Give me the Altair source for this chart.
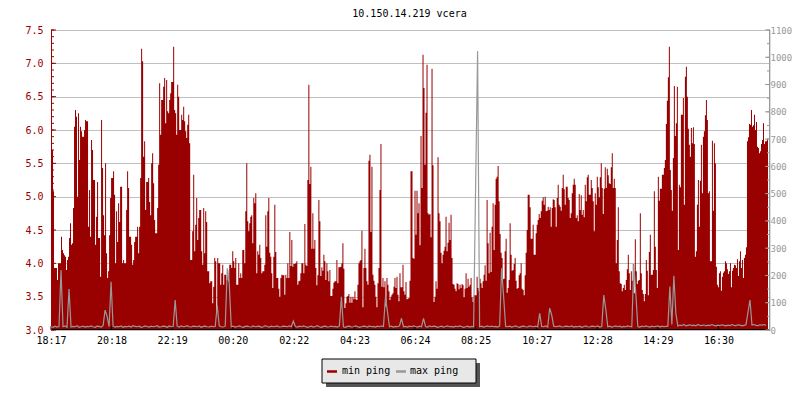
import altair as alt
import pandas as pd

title_text = "10.150.14.219 vcera"
tick_labels = ["18:17", "20:18", "22:19", "00:20", "02:22", "04:23",
               "06:24", "08:25", "10:27", "12:28", "14:29", "16:30"]
tick_minutes = [0, 121, 242, 363, 485, 606, 727, 848, 970, 1091, 1212, 1333]
x_end_minutes = 1436

left_ticks = [3.0, 3.5, 4.0, 4.5, 5.0, 5.5, 6.0, 6.5, 7.0, 7.5]
left_minor_ticks = [round(3.0 + 0.1 * k, 1) for k in range(46)]
right_ticks = [0, 100, 200, 300, 400, 500, 600, 700, 800, 900, 1000, 1100]
right_minor_ticks = [50 * k for k in range(23)]

legend_labels = ["min ping", "max ping"]
series_colors = ["#990000", "#999999"]

# min ping, one value every 2 minutes (left axis)
min_ping_step = 2
min_ping = [
    4.43, 5.7, 5.08, 3.93, 3.93, 3.93, 3.75, 4.0, 4.0, 4.0,
    4.4, 4.2, 4.15, 4.12, 4.1, 3.9, 4.05, 4.1, 4.38, 4.6,
    4.28, 4.3, 4.83, 6.05, 6.3, 6.2, 5.0, 6.25, 5.55, 6.05,
    5.98, 5.9, 5.9, 6.0, 6.15, 6.13, 6.13, 4.55, 5.1, 4.4,
    5.85, 5.7, 5.25, 5.25, 4.28, 4.7, 5.22, 4.38, 4.38, 3.8,
    6.15, 5.43, 4.72, 4.42, 5.5, 4.15, 3.78, 3.88, 4.42, 4.98,
    5.28, 5.28, 5.38, 5.03, 4.0, 4.78, 4.32, 4.9, 4.62, 5.15,
    5.15, 4.0, 4.05, 4.0, 4.0, 4.8, 5.38, 5.13, 4.4, 4.4,
    4.28, 3.98, 4.05, 4.32, 4.4, 4.4, 4.55, 4.15, 4.55, 5.28,
    7.22, 7.03, 5.6, 5.83, 4.8, 5.22, 5.22, 5.28, 4.92, 4.72,
    5.5, 5.65, 5.2, 4.65, 4.45, 4.45, 4.83, 5.48, 6.7, 5.93,
    6.45, 6.45, 6.65, 6.78, 6.1, 6.75, 6.28, 6.25, 6.45, 6.55,
    6.72, 6.72, 7.25, 6.3, 6.25, 5.93, 6.68, 6.5, 6.0, 6.0,
    6.23, 6.15, 6.35, 6.13, 5.98, 5.88, 6.08, 6.23, 5.8, 4.05,
    4.05, 4.48, 5.33, 4.18, 4.58, 4.98, 4.35, 4.68, 4.8, 4.8,
    4.18, 3.98, 4.83, 4.15, 4.78, 4.62, 3.88, 3.88, 3.7, 3.73,
    3.73, 3.4, 3.65, 4.08, 4.03, 3.28, 4.08, 4.0, 4.0, 3.68,
    3.85, 3.98, 3.68, 3.83, 3.83, 3.75, 3.9, 3.73, 3.98, 3.98,
    # 00:20 ->
    3.93, 4.18, 4.03, 3.93, 4.08, 3.68, 3.68, 4.0, 3.78, 3.85,
    3.78, 4.2, 4.2, 4.0, 4.78, 5.5, 4.63, 4.48, 4.6, 4.7,
    4.72, 4.3, 4.98, 4.9, 5.05, 3.85, 4.18, 4.13, 4.28, 4.08,
    3.85, 3.88, 3.88, 3.98, 4.72, 4.25, 4.78, 4.98, 4.16, 4.1,
    3.85, 3.63, 4.1, 4.88, 4.17, 3.78, 3.78, 3.62, 3.5, 3.78,
    3.83, 3.82, 3.82, 3.53, 3.83, 3.78, 4.0, 3.78, 4.47, 3.96,
    4.35, 3.95, 3.99, 3.99, 4.0, 4.03, 3.68, 3.73, 3.74, 3.85,
    4.0, 4.0, 3.85,
    4.59, 3.98, 3.96, 5.25, 6.68, 5.19, 5.45, 4.22, 4.75, 4.22,
    4.35, 3.93, 3.67, 3.82, 4.95, 4.63, 3.81, 3.94, 3.89, 4.13,
    4.03, 3.75, 4.0, 3.88, 3.73, 3.9, 3.51, 3.51, 3.62, 3.71,
    3.73, 3.73, 4.05, 3.7, 3.94, 3.94, 3.95, 4.0, 4.3, 3.92,
    3.33, 3.4, 3.5, 3.51, 3.54, 3.41, 3.5, 3.41, 3.5, 3.46,
    3.58, 3.46, 3.45, 3.68, 4.0, 4.03, 4.05, 4.49, 3.34, 3.93,
    4.22, 3.93, 3.73, 3.68, 5.54, 5.63, 4.47, 5.45, 3.83, 3.74,
    3.68, 3.5, 3.34, 3.7, 3.93, 5.1, 5.79, 3.65, 3.78, 3.64,
    3.73, 3.35, 3.78, 3.68, 3.58, 3.45, 3.5, 3.53, 3.55, 3.65,
    3.78, 3.63, 3.8, 3.53, 3.43, 3.85, 3.64, 3.64, 3.98, 3.58,
    3.53, 3.72, 3.46, 3.47, 3.48,
    # 06:00 ->
    3.74, 5.38, 5.38, 4.08, 4.07, 5.09, 4.43, 5.09, 4.75, 4.9,
    4.27, 5.91, 5.13, 7.13, 6.63, 5.48, 6.26, 6.98, 4.75, 4.73,
    4.74, 4.39, 6.92, 5.47, 3.42, 3.5, 3.73, 3.62, 5.59, 4.75,
    4.63, 4.16, 4.0, 4.13, 4.19, 4.25, 4.7, 4.18, 4.31, 4.61,
    4.35, 4.73, 4.08, 3.69, 3.68, 3.62, 3.58, 3.7, 3.69, 3.61,
    3.68, 3.63, 3.69, 3.67, 3.49, 3.62, 3.85, 3.63, 3.77, 3.65,
    3.68, 3.78, 3.49, 3.42, 3.52, 3.52, 3.52, 3.8, 3.63, 3.58,
    3.77, 3.7, 3.63, 3.73, 3.83, 3.97, 3.74, 4.95, 4.3, 3.85,
    4.46, 3.87, 4.55, 4.9, 4.2, 4.88, 5.27, 5.3, 5.46, 4.93,
    4.44, 4.16, 4.08, 3.76, 3.77, 4.18, 4.37, 3.56, 3.63, 3.75,
    4.6, 4.13, 3.89, 3.9, 3.99, 4.08, 3.74, 3.62, 3.63, 3.82,
    3.85, 4.0, 3.62, 3.6, 3.52, 3.82, 4.16, 4.5, 5.03, 5.03,
    4.84, 4.37, 4.37, 4.58, 4.13, 4.13, 4.45, 4.58, 4.65, 4.74,
    4.68, 4.78, 4.94, 4.99, 4.88, 5.0, 4.78, 4.79, 4.85, 4.8,
    4.84, 4.55, 4.83, 4.96, 4.95, 4.84, 4.55, 4.98, 5.18, 4.88,
    4.85, 4.79, 5.13, 5.33, 5.11, 4.88, 5.15, 5.15, 4.98, 4.95,
    4.68, 4.75, 5.05, 5.18, 5.27, 5.18, 4.68, 4.72, 4.63, 5.04,
    4.8, 5.02, 4.73, 4.8, 4.69, 5.18, 4.93, 5.29, 5.33, 5.03,
    # 12:00 ->
    5.03, 5.25, 5.13, 4.93, 4.48, 5.05, 4.88, 5.3, 5.14, 4.99,
    5.29, 5.5, 5.13, 4.74, 5.12, 5.44, 5.13, 5.42, 5.32, 5.2,
    5.19, 5.44, 5.65, 5.13, 5.27, 5.13, 4.0, 4.35, 4.84, 3.88,
    3.7, 3.69, 3.58, 3.63, 3.68, 3.6, 3.75, 3.91, 4.13, 3.85,
    3.6, 3.88, 3.74, 3.99, 3.55, 4.36, 3.88, 3.69, 3.74, 3.75,
    4.75, 3.85, 3.6, 3.54, 3.43, 3.54, 4.05, 3.89, 3.52, 4.17,
    4.43, 3.83, 3.83, 3.9, 5.08, 4.25, 3.9, 3.63, 5.3, 4.94,
    5.12, 5.12, 5.33, 5.33, 5.43, 5.55, 6.09, 6.44, 6.79, 7.25,
    5.4, 5.1, 4.79, 5.58, 6.66, 5.91, 6.1, 6.65, 4.2, 5.18,
    5.14, 6.23, 6.23, 6.48, 4.88, 6.8, 6.95, 6.5, 6.02, 5.78,
    5.6, 6.03, 5.8, 6.04, 5.79, 4.1, 4.18, 4.88, 5.25, 4.55,
    5.24, 5.78, 5.05, 5.9, 5.98, 6.22, 6.45, 6.15, 5.05, 5.08,
    4.03, 4.03, 5.84, 4.79, 5.8, 5.5, 3.95, 3.68, 3.64, 3.85,
    3.88, 3.59, 3.8, 3.86, 3.88, 4.03, 4.0, 3.91, 3.84, 3.88,
    4.0, 3.64, 3.89, 3.93, 3.98, 3.97, 3.93, 4.06, 3.81, 4.03,
    4.18, 3.93, 4.05, 3.78, 4.08, 4.13, 4.24, 5.83, 5.89, 6.09,
    6.08, 6.3, 6.05, 6.07, 6.23, 6.0, 6.12, 5.75, 5.73, 5.65,
    5.68, 5.79, 5.85, 6.1, 5.79, 5.83, 5.83, 5.87, 6.02,
]

# max ping, one value every 4 minutes (right axis)
max_ping_step = 4
max_ping = [
    12, 10, 14, 11, 13, 220, 12, 15, 10, 150, 11, 13, 12, 16, 10, 12, 14, 11, 13, 12,
    15, 12, 10, 14, 13, 11, 16, 73, 51, 12, 177, 14, 11, 13, 12, 15, 10, 13, 12, 14,
    11, 16, 13, 12, 14, 10, 12, 15, 13, 11, 14, 12, 13, 16, 11, 12, 14, 13, 10, 15,
    12, 13, 110, 14, 11, 15, 12, 13, 16, 12, 11, 14, 13, 12, 15, 10, 13, 14, 12, 11,
    14, 12, 13, 90, 15, 12, 11, 14, 226, 171, 12, 14, 11, 13, 15, 12, 10, 13, 14, 12,
    11, 15, 12, 13, 14, 10, 12, 16, 13, 11, 14, 12, 13, 15, 11, 12, 14, 13, 12, 15,
    12, 33, 13, 11, 14, 12, 15, 13, 10, 12, 14, 11, 13, 16, 12, 10, 13, 14, 11, 12,
    14, 12, 13, 11, 15, 122, 12, 10, 13, 14, 11, 12, 15, 13, 10, 12, 14, 13, 11, 15,
    12, 13, 11, 14, 12, 15, 13, 122, 67, 12, 14, 11, 13, 12, 15, 43, 12, 13, 11, 14,
    12, 15, 13, 11, 14, 12, 43, 13, 11, 15, 12, 14, 13, 10, 12, 14, 11, 13, 15, 12,
    13, 11, 14, 12, 15, 13, 10, 12, 14, 11, 13, 12, 517, 1023, 12, 14, 11, 13, 15, 12,
    14, 12, 13, 11, 15, 226, 122, 13, 12, 14, 11, 13, 15, 12, 10, 13, 14, 12, 11, 15,
    13, 12, 14, 11, 61, 13, 12, 15, 11, 80, 55, 14, 12, 13, 15, 11, 12, 14, 13, 12,
    15, 11, 13, 12, 14, 10, 13, 15, 12, 11, 14, 13, 12, 15, 11, 13, 128, 77, 12, 14,
    11, 13, 15, 12, 14, 11, 13, 12, 15, 13, 12, 241, 134, 13, 11, 14, 12, 15, 13, 11,
    14, 12, 13, 15, 11, 14, 12, 13, 14, 159, 20, 199, 60, 14, 18, 16, 20, 15, 17, 19,
    16, 18, 15, 20, 17, 16, 19, 15, 18, 16, 20, 17, 15, 18, 16, 19, 17, 15, 18, 16,
    20, 17, 16, 19, 18, 15, 17, 19, 65, 110, 18, 20, 17, 16, 19, 18, 20, 17,
]

W, H = 719, 300
FONT = "DejaVu Sans Mono"
RED, GRAY = series_colors

min_df = pd.DataFrame({"t": [i * min_ping_step for i in range(len(min_ping))], "v": min_ping})
max_df = pd.DataFrame({"t": [i * max_ping_step for i in range(len(max_ping))], "v": max_ping})
one = pd.DataFrame({"k": [0]})

xs = alt.Scale(domain=[0, x_end_minutes], nice=False, zero=False)
yl = alt.Scale(domain=[3.0, 7.5], nice=False, zero=False)
yr = alt.Scale(domain=[0, 1100], nice=False, zero=False)

label_expr = "{}[indexof({}, datum.value)]".format(
    "[" + ",".join("'%s'" % s for s in tick_labels) + "]",
    "[" + ",".join(str(m) for m in tick_minutes) + "]",
)

x_axis = alt.Axis(
    values=tick_minutes, labelExpr=label_expr, title=None, grid=False,
    domain=False, ticks=False, tickSize=0, labelPadding=5, labelColor="black",
    labelFont=FONT, labelFontSize=10, labelFlush=False)
yl_axis = alt.Axis(
    orient="left", values=left_ticks, format=".1f", title=None, grid=True,
    gridColor="#c0c0c0", gridWidth=1, domain=False, ticks=False, tickSize=0,
    labelPadding=8, labelColor=RED, labelFont=FONT, labelFontSize=10)
yr_axis = alt.Axis(
    orient="right", values=right_ticks, format="d", title=None, grid=False,
    domain=False, ticks=False, tickSize=0, labelPadding=0, labelColor=GRAY,
    labelFont=FONT, labelFontSize=9)

area = alt.Chart(min_df).mark_area(interpolate="step-after", color=RED).encode(
    x=alt.X("t:Q", scale=xs, axis=x_axis),
    y=alt.Y("v:Q", scale=yl, axis=yl_axis),
    y2=alt.datum(3.0),
)

left_major = alt.Chart(pd.DataFrame({"v": left_ticks})).mark_rule(color=RED).encode(
    y=alt.Y("v:Q", scale=yl, axis=yl_axis), x=alt.value(0), x2=alt.value(5))
left_minor = alt.Chart(pd.DataFrame({"v": left_minor_ticks})).mark_rule(color=RED).encode(
    y=alt.Y("v:Q", scale=yl, axis=yl_axis), x=alt.value(0), x2=alt.value(3))
left_domain = alt.Chart(one).mark_rule(color=RED).encode(
    x=alt.value(0.5), y=alt.value(0), y2=alt.value(H))
bottom_ticks = alt.Chart(pd.DataFrame({"t": tick_minutes})).mark_rule(color="black").encode(
    x=alt.X("t:Q", scale=xs, axis=x_axis), y=alt.value(H), y2=alt.value(H - 4))
bottom_domain = alt.Chart(one).mark_rule(color="black").encode(
    x=alt.value(0), x2=alt.value(W), y=alt.value(H - 0.5))

left_layer = alt.layer(area, left_major, left_minor, bottom_ticks, bottom_domain, left_domain)

gray_line = alt.Chart(max_df).mark_line(color=GRAY, strokeWidth=1.2).encode(
    x=alt.X("t:Q", scale=xs, axis=x_axis),
    y=alt.Y("v:Q", scale=yr, axis=yr_axis),
)
right_major = alt.Chart(pd.DataFrame({"v": right_ticks})).mark_rule(color=GRAY).encode(
    y=alt.Y("v:Q", scale=yr, axis=yr_axis), x=alt.value(W - 5), x2=alt.value(W))
right_minor = alt.Chart(pd.DataFrame({"v": right_minor_ticks})).mark_rule(color=GRAY).encode(
    y=alt.Y("v:Q", scale=yr, axis=yr_axis), x=alt.value(W - 3), x2=alt.value(W))
right_domain = alt.Chart(one).mark_rule(color=GRAY).encode(
    x=alt.value(W - 0.5), y=alt.value(0), y2=alt.value(H))

right_layer = alt.layer(gray_line, right_major, right_minor, right_domain)

# title and legend box (drawn as text / rect marks around the plot)
title_mark = alt.Chart(one).mark_text(
    text=title_text, font=FONT, fontSize=10, align="center", baseline="alphabetic",
    color="black").encode(x=alt.value(W / 2 - 1), y=alt.value(-13))
shadow = alt.Chart(one).mark_rect(color="#555555").encode(
    x=alt.value(275), x2=alt.value(429), y=alt.value(333), y2=alt.value(357))
box = alt.Chart(one).mark_rect(fill="#e8e8e8", stroke="black", strokeWidth=1).encode(
    x=alt.value(271), x2=alt.value(425), y=alt.value(329), y2=alt.value(353))
sw_min = alt.Chart(one).mark_rule(color=RED, strokeWidth=2.5).encode(
    x=alt.value(276), x2=alt.value(286), y=alt.value(341.5))
sw_max = alt.Chart(one).mark_rule(color=GRAY, strokeWidth=2.5).encode(
    x=alt.value(345), x2=alt.value(355), y=alt.value(341.5))
txt_min = alt.Chart(one).mark_text(
    text=legend_labels[0], font=FONT, fontSize=10, align="left", baseline="alphabetic",
    color="black").encode(x=alt.value(291), y=alt.value(344))
txt_max = alt.Chart(one).mark_text(
    text=legend_labels[1], font=FONT, fontSize=10, align="left", baseline="alphabetic",
    color="black").encode(x=alt.value(359), y=alt.value(344))

deco_layer = alt.layer(title_mark, shadow, box, sw_min, sw_max, txt_min, txt_max)

chart = alt.layer(left_layer, right_layer, deco_layer).resolve_scale(
    y="independent"
).properties(
    width=W, height=H,
    autosize=alt.AutoSizeParams(type="none"),
    padding={"left": 43, "top": 22, "right": 22, "bottom": 60},
).configure_view(stroke=None).configure(background="white")

chart.save("out.html", embed_options={"renderer": "svg", "actions": False})
